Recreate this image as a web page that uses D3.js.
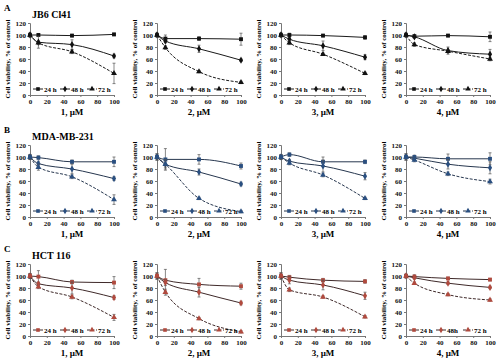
<!DOCTYPE html>
<html>
<head>
<meta charset="utf-8">
<script src="https://cdn.jsdelivr.net/npm/d3@7"></script>
<style>
  body { margin: 0; background: #fff; }
  svg { font-family: "Liberation Serif", "Times New Roman", serif; font-weight: bold; }
</style>
</head>
<body>
<svg id="chart" width="500" height="363"></svg>
<script>
// doses and time points
const doses = [0, 10, 50, 100];
const times = ["24 h", "48 h", "72 h"];
const compounds = ["1", "2", "3", "4"];
const cellLines = ["JB6 Cl41", "MDA-MB-231", "HCT 116"];
const rowLetters = ["A", "B", "C"];
const yTicks = [0, 20, 40, 60, 80, 100, 120];
const xTicks = [0, 20, 40, 60, 80, 100];

// viability, % of control: [compound][time][dose]
const jb6 = [
  [[100, 100, 99, 101], [100, 88, 84, 65], [100, 87, 72, 36]],
  [[100, 94, 94, 93], [100, 90, 77, 58], [100, 79, 39, 21]],
  [[100, 100, 99, 96], [100, 93, 82, 63], [100, 87, 68, 36]],
  [[100, 98, 99, 97], [100, 97, 74, 68], [100, 84, 73, 60]]
];
const mda = [
  [[100, 99, 92, 92], [100, 89, 80, 64], [100, 83, 67, 29]],
  [[100, 96, 96, 85], [100, 88, 75, 55], [100, 88, 31, 9]],
  [[100, 104, 92, 92], [100, 93, 85, 68], [100, 90, 70, 31]],
  [[100, 100, 97, 97], [100, 98, 88, 82], [100, 95, 72, 59]]
];
const hct = [
  [[100, 99, 90, 89], [100, 87, 80, 64], [100, 82, 65, 31]],
  [[100, 93, 86, 83], [100, 89, 73, 55], [100, 73, 29, 7]],
  [[100, 98, 93, 91], [100, 93, 85, 67], [100, 77, 65, 32]],
  [[100, 99, 96, 94], [100, 97, 88, 81], [100, 88, 69, 60]]
];

// error bars (± %), same layout
const jb6Err = [
  [[3, 2, 2, 2], [3, 10, 8, 3], [3, 3, 3, 17]],
  [[3, 6, 3, 10], [3, 3, 6, 2], [3, 3, 2, 2]],
  [[3, 3, 2, 3], [3, 3, 8, 4], [3, 3, 2, 2]],
  [[3, 2, 2, 8], [3, 2, 6, 8], [3, 3, 2, 3]]
];
const mdaErr = [
  [[4, 3, 3, 8], [4, 4, 8, 3], [4, 5, 3, 8]],
  [[5, 18, 8, 5], [5, 8, 5, 3], [5, 5, 2, 2]],
  [[4, 3, 8, 3], [4, 3, 10, 6], [4, 3, 3, 2]],
  [[5, 3, 8, 10], [5, 3, 8, 10], [5, 3, 3, 4]]
];
const hctErr = [
  [[4, 10, 3, 10], [4, 3, 10, 3], [4, 3, 3, 5]],
  [[5, 18, 10, 5], [5, 5, 8, 3], [5, 5, 2, 2]],
  [[5, 3, 3, 3], [5, 6, 8, 6], [5, 3, 2, 2]],
  [[3, 3, 2, 2], [3, 2, 2, 2], [3, 2, 2, 2]]
];

const rowData = [jb6, mda, hct];
const rowErr = [jb6Err, mdaErr, hctErr];
const markerColor = ["#111111", "#2a4f80", "#b04a3e"];
const lineColor = ["#1a1a1a", "#27374f", "#3f2a2a"];

const svg = d3.select("#chart");

// panel layout
const colLeft = [30, 157, 281, 406];
const rowTop = [23, 145, 264];
const pw = 84, ph = 72;

const symbols = [d3.symbolSquare, d3.symbolDiamond, d3.symbolTriangle];

rowData.forEach((rows, r) => {
  // row letter and cell line name
  svg.append("text")
    .attr("x", 4).attr("y", rowTop[r] - 12)
    .attr("font-size", 9)
    .text(rowLetters[r]);
  svg.append("text")
    .attr("x", 32).attr("y", rowTop[r] - 5)
    .attr("font-size", 10)
    .text(cellLines[r]);

  rows.forEach((series, c) => {
    const g = svg.append("g")
      .attr("transform", `translate(${colLeft[c]},${rowTop[r]})`);

    const x = d3.scaleLinear().domain([0, 100]).range([0, pw]);
    const y = d3.scaleLinear().domain([0, 120]).range([ph, 0]);

    const xAxis = g.append("g")
      .attr("transform", `translate(0,${ph})`)
      .call(d3.axisBottom(x).tickValues(xTicks).tickSize(2).tickPadding(2));
    const yAxis = g.append("g")
      .call(d3.axisLeft(y).tickValues(yTicks).tickSize(2).tickPadding(2));
    [xAxis, yAxis].forEach(a => {
      a.selectAll("text").attr("font-size", 7).attr("font-family", "Liberation Serif").attr("font-weight", "bold").attr("fill", "#111");
      a.selectAll("path, line").attr("stroke", "#777");
    });

    g.append("text")
      .attr("transform", `translate(-20,${ph / 2}) rotate(-90)`)
      .attr("text-anchor", "middle")
      .attr("font-size", 7)
      .text("Cell viability, % of control");

    g.append("text")
      .attr("x", pw / 2).attr("y", ph + 20)
      .attr("text-anchor", "middle")
      .attr("font-size", 9)
      .text(`${compounds[c]}, µM`);

    const line = d3.line()
      .x((d, i) => x(doses[i]))
      .y(d => y(d))
      .curve(d3.curveMonotoneX);

    series.forEach((vals, t) => {
      const err = rowErr[r][c][t];
      // error bars
      vals.forEach((v, i) => {
        const e = err[i];
        g.append("line")
          .attr("x1", x(doses[i])).attr("x2", x(doses[i]))
          .attr("y1", y(v - e)).attr("y2", y(v + e))
          .attr("stroke", "#555").attr("stroke-width", 0.7);
        [v - e, v + e].forEach(b => {
          g.append("line")
            .attr("x1", x(doses[i]) - 1.5).attr("x2", x(doses[i]) + 1.5)
            .attr("y1", y(b)).attr("y2", y(b))
            .attr("stroke", "#555").attr("stroke-width", 0.7);
        });
      });

      g.append("path")
        .attr("d", line(vals))
        .attr("fill", "none")
        .attr("stroke", lineColor[r])
        .attr("stroke-width", 1)
        .attr("stroke-dasharray", t === 2 ? "3,1.5" : null);

      g.selectAll(null)
        .data(vals)
        .enter()
        .append("path")
        .attr("transform", (d, i) => `translate(${x(doses[i])},${y(d)})`)
        .attr("d", d3.symbol().type(symbols[t]).size(15))
        .attr("fill", markerColor[r]);
    });

    // legend inside the plot
    const leg = g.append("g").attr("transform", `translate(3,${y(10)})`);
    const legLabels = (r === 2 && c === 3) ? ["24 h", "48h", "72 h"] : times;
    legLabels.forEach((lab, t) => {
      const lx = t * 27;
      leg.append("line")
        .attr("x1", lx).attr("x2", lx + 10)
        .attr("stroke", lineColor[r]).attr("stroke-width", 1)
        .attr("stroke-dasharray", t === 2 ? "3,1.5" : null);
      leg.append("path")
        .attr("transform", `translate(${lx + 5},0)`)
        .attr("d", d3.symbol().type(symbols[t]).size(13))
        .attr("fill", markerColor[r]);
      leg.append("text")
        .attr("x", lx + 11).attr("y", 2.5)
        .attr("font-size", 7)
        .text(lab);
    });
  });
});
</script>
</body>
</html>
